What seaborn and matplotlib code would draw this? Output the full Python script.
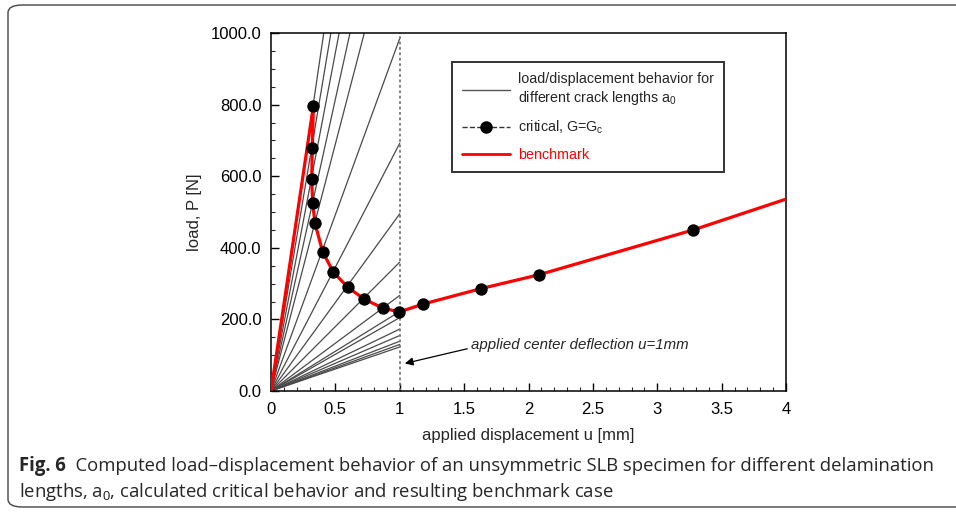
import matplotlib
matplotlib.use("Agg")
import matplotlib.pyplot as plt
from matplotlib import font_manager
from matplotlib.patches import FancyBboxPatch
from matplotlib.lines import Line2D
import seaborn as sns
import pandas as pd
import numpy as np

# ---------------- data ----------------
# load reached at u = 1 mm by each linear load/displacement curve (different a0)
line_end_load = [2440, 2150, 1890, 1630, 1380, 985, 692, 495, 360, 267,
                 222, 205, 173, 155, 139, 130, 123]
line_end_u = 1.0

# critical points (G = Gc)
crit_u = [0.329, 0.321, 0.316, 0.324, 0.342, 0.401, 0.484, 0.596, 0.722,
          0.872, 0.997, 1.183, 1.631, 2.084, 3.28]
crit_P = [796, 678, 591, 524, 468, 389, 332, 290, 257, 231, 221, 243, 286,
          325, 450]

# benchmark path
bench_u = [0.0] + crit_u + [4.0]
bench_P = [0.0] + crit_P + [536]

x_ticks = [0, 0.5, 1, 1.5, 2, 2.5, 3, 3.5, 4]
x_tick_labels = ["0", "0.5", "1", "1.5", "2", "2.5", "3", "3.5", "4"]
y_ticks = [0, 200, 400, 600, 800, 1000]
y_tick_labels = ["0.0", "200.0", "400.0", "600.0", "800.0", "1000.0"]

# ---------------- styling ----------------
sns.set_theme(style="white")
plt.rcParams["font.family"] = ["Liberation Sans", "DejaVu Sans"]
plt.rcParams["mathtext.fontset"] = "custom"
plt.rcParams["mathtext.rm"] = "Liberation Sans"
plt.rcParams["mathtext.it"] = "Liberation Sans"

W, H = 956, 514
fig = plt.figure(figsize=(W / 100, H / 100), dpi=100)
fig.patch.set_facecolor("white")

ax_l, ax_r, ax_t, ax_b = 271, 786, 33, 391
ax = fig.add_axes([ax_l / W, (H - ax_b) / H, (ax_r - ax_l) / W, (ax_b - ax_t) / H])
ax.set_facecolor("white")

# gray lines
rows = []
for i, p in enumerate(line_end_load):
    rows.append({"u": 0.0, "P": 0.0, "id": i})
    rows.append({"u": line_end_u, "P": p, "id": i})
df_lines = pd.DataFrame(rows)
sns.lineplot(data=df_lines, x="u", y="P", units="id", estimator=None,
             color="#4a4a4a", lw=0.9, ax=ax, legend=False, sort=False)

# vertical dotted line at u = 1
ax.plot([1, 1], [0, 1000], color="#777777", lw=1.3, ls=(0, (1.5, 1.5)), zorder=2)

# critical dashed line + markers
df_crit = pd.DataFrame({"u": crit_u, "P": crit_P})
sns.lineplot(data=df_crit, x="u", y="P", sort=False, color="#333333",
             lw=1.0, ls="--", ax=ax, legend=False, zorder=3)

# benchmark red line
df_bench = pd.DataFrame({"u": bench_u, "P": bench_P})
sns.lineplot(data=df_bench, x="u", y="P", sort=False, color="#ff0000",
             lw=2.3, ax=ax, legend=False, zorder=4)

# critical markers on top
sns.scatterplot(data=df_crit, x="u", y="P", color="black", s=80,
                edgecolor="black", linewidth=0, ax=ax, zorder=5, legend=False)

ax.set_xlim(0, 4)
ax.set_ylim(0, 1000)
ax.set_xticks(x_ticks)
ax.set_xticklabels(x_tick_labels)
ax.set_yticks(y_ticks)
ax.set_yticklabels(y_tick_labels)
ax.set_xticks(np.arange(0, 4.0001, 0.1), minor=True)
ax.set_yticks(np.arange(0, 1000.1, 50), minor=True)
ax.tick_params(axis="both", which="major", direction="in", length=6, width=1,
               labelsize=12, colors="black")
ax.tick_params(axis="x", which="major", pad=8)
ax.tick_params(axis="y", which="major", pad=7)
ax.tick_params(axis="both", which="minor", direction="in", length=3, width=0.8)
ax.tick_params(bottom=True, left=True, top=False, right=False, which="both")
for s in ax.spines.values():
    s.set_color("black")
    s.set_linewidth(1.1)

ax.set_xlabel("applied displacement u [mm]", fontsize=12, labelpad=8)
ax.set_ylabel("load, P [N]", fontsize=12, labelpad=6)

# annotation
ax.annotate("applied center deflection u=1mm", xy=(1.04, 77), xytext=(1.55, 128),
            fontsize=10.8, fontstyle="italic", va="center", ha="left",
            arrowprops=dict(arrowstyle="-|>", color="black", lw=0.9,
                            shrinkA=0, shrinkB=0, mutation_scale=12,
                            relpos=(0, 0.3)))

# legend
h1 = Line2D([], [], color="#555555", lw=1.0)
h2 = Line2D([], [], color="#333333", lw=1.0, ls="--", marker="o", ms=8,
            markerfacecolor="black", markeredgecolor="black")
h3 = Line2D([], [], color="#ff0000", lw=2.0)
leg = ax.legend([h1, h2, h3],
                ["load/displacement behavior for\ndifferent crack lengths a$_0$",
                 "critical, G=G$_c$", "benchmark"],
                loc="upper left", bbox_to_anchor=(0.351, 0.919), borderaxespad=0,
                fontsize=10.3, frameon=True, fancybox=False, handlelength=3.4,
                handletextpad=0.5, labelspacing=0.85, borderpad=0.7,
                edgecolor="black")
leg.get_frame().set_linewidth(1.4)
leg.get_texts()[2].set_color("#ff0000")

# outer rounded frame
frame = FancyBboxPatch((8 / W, 7 / H), 1.2, (H - 12) / H,
                       boxstyle="round,pad=0,rounding_size=0.015",
                       transform=fig.transFigure, fill=False,
                       edgecolor="#444444", lw=1.0, clip_on=False)
fig.patches.append(frame)

# caption
avail = {f.name for f in font_manager.fontManager.ttflist}
cap_font = ["Liberation Sans Narrow", "DejaVu Sans"] if "Liberation Sans Narrow" in avail \
    else ["Open Sans", "DejaVu Sans"]
cap_size = 12.0
t1 = fig.text(19 / W, 1 - 466 / H, "Fig. 6", fontsize=cap_size, fontweight="bold",
              family=cap_font, va="center", ha="left")
t2 = fig.text(0, 0, "  Computed load\u2013displacement behavior of an unsymmetric SLB "
              "specimen for different delamination", fontsize=cap_size,
              family=cap_font, va="center", ha="left")
t3 = fig.text(19 / W, 1 - 492 / H,
              "lengths, a$_0$, calculated critical behavior and resulting benchmark case",
              fontsize=cap_size, family=cap_font, va="center", ha="left")
fig.canvas.draw()
r = fig.canvas.get_renderer()
# fit the first caption line to its width in the reference
for _ in range(3):
    e1 = t1.get_window_extent(r)
    t2.set_position(((e1.x1) / W, 1 - 466 / H))
    fig.canvas.draw()
    e2 = t2.get_window_extent(r)
    total = e2.x1 - e1.x0
    scale = (938 - 19) / total
    for t in (t1, t2, t3):
        t.set_fontsize(t.get_fontsize() * scale)
    fig.canvas.draw()
e1 = t1.get_window_extent(r)
t2.set_position((e1.x1 / W, 1 - 466 / H))

fig.savefig("out.png", dpi=100, facecolor="white")
